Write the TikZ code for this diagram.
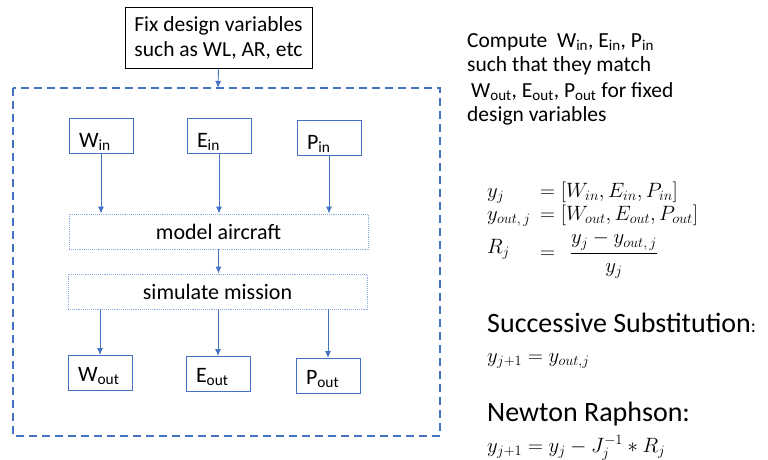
\documentclass[tikz,border=0pt]{standalone}
\usepackage{fontspec}
\setmainfont{Carlito}
\usetikzlibrary{arrows.meta}
\definecolor{flowblue}{HTML}{4472C4}
\definecolor{lightblue}{HTML}{8FAADC}
\tikzset{
  varbox/.style={draw=flowblue, line width=0.9pt, minimum width=64pt, minimum height=35pt,
    inner xsep=10pt, inner ysep=0pt, text width=44pt, align=left,
    text height=#1, text depth=0pt, font=\fontsize{22}{24}\selectfont},
  stagebox/.style={draw=lightblue, densely dotted, line width=0.9pt, minimum width=299pt,
    minimum height=35pt, inner sep=0pt, font=\fontsize{22}{24}\selectfont},
  flow/.style={draw=flowblue, line width=0.9pt, -{Latex[length=7pt,width=6pt]}},
  note/.style={anchor=base west, inner sep=0pt, font=\fontsize{21.5}{24}\selectfont},
  heading/.style={anchor=base west, inner sep=0pt, font=\fontsize{28}{32}\selectfont},
  eq/.style={anchor=base west, inner sep=0pt, font=\fontsize{20}{24}\selectfont},
}
\begin{document}
\begin{tikzpicture}[x=1pt,y=-1pt]
\useasboundingbox (0,0) rectangle (768,459);

% design variables
\node[draw=black, line width=0.9pt, minimum width=187pt, minimum height=61pt, align=center,
      font=\fontsize{21.5}{25}\selectfont] (fix) at (218.5,37.5) {Fix design variables\\such as WL, AR, etc};

% iteration loop
\draw[flowblue, line width=1.4pt, dash pattern=on 8pt off 5pt] (13,88) rectangle (440,436);
\coordinate (looptop) at (218,88);
\draw[flow] (fix.south) -- (looptop);

% inputs
\node[varbox=23pt] (win) at (101,135.5) {W\textsubscript{in}};
\node[varbox=23pt] (ein) at (219,136) {E\textsubscript{in}};
\node[varbox=23pt] (pin) at (329,137.5) {P\textsubscript{in}};

% analysis stages
\node[stagebox] (model) at (218.5,231.5) {model aircraft};
\node[stagebox] (sim) at (217.5,291.5) {simulate mission};

% outputs
\node[varbox=17pt] (wout) at (100,373) {W\textsubscript{out}};
\node[varbox=17pt] (eout) at (218,374) {E\textsubscript{out}};
\node[varbox=17pt] (pout) at (328,376) {P\textsubscript{out}};

\draw[flow] (win.south) -- (win.south |- model.north);
\draw[flow] (ein.south) -- (ein.south |- model.north);
\draw[flow] (pin.south) -- (pin.south |- model.north);
\draw[flow] (model.south) -- (model.south |- sim.north);
\draw[flow] (sim.south -| wout.north) -- (wout.north);
\draw[flow] (sim.south -| eout.north) -- (eout.north);
\draw[flow] (sim.south -| pout.north) -- (pout.north);

% explanation
\node[note] (n1) at (467,47) {Compute\ \ W\textsubscript{in}, E\textsubscript{in}, P\textsubscript{in}};
\node[note] (n2) at (467,71) {such that they match};
\node[note] (n3) at (471,97) {W\textsubscript{out}, E\textsubscript{out}, P\textsubscript{out} for fixed};
\node[note] (n4) at (467,121) {design variables};

% residual definition
\node[eq] (l1) at (487,197) {$y_j$};
\node[eq] (r1) at (540,197) {$=[W_{in},E_{in},P_{in}]$};
\node[eq] (l2) at (487,220) {$y_{out,\,j}$};
\node[eq] (r2) at (540,220) {$=[W_{out},E_{out},P_{out}]$};
\node[eq] (l3) at (487,253) {$R_j$};
\node[eq] (r3) at (540,258) {$=\ \ \displaystyle\frac{y_j-y_{out,\,j}}{y_j}$};

% update rules
\node[heading] (ss) at (487,332) {Successive Substitution\fontsize{19}{22}\selectfont:};
\node[eq] (sseq) at (487,362) {$y_{j+1}=y_{out,j}$};
\node[heading] (nr) at (487,421) {Newton Raphson:};
\node[eq] (nreq) at (487,452) {$y_{j+1}=y_j-J_j^{-1}*R_j$};
\end{tikzpicture}
\end{document}
